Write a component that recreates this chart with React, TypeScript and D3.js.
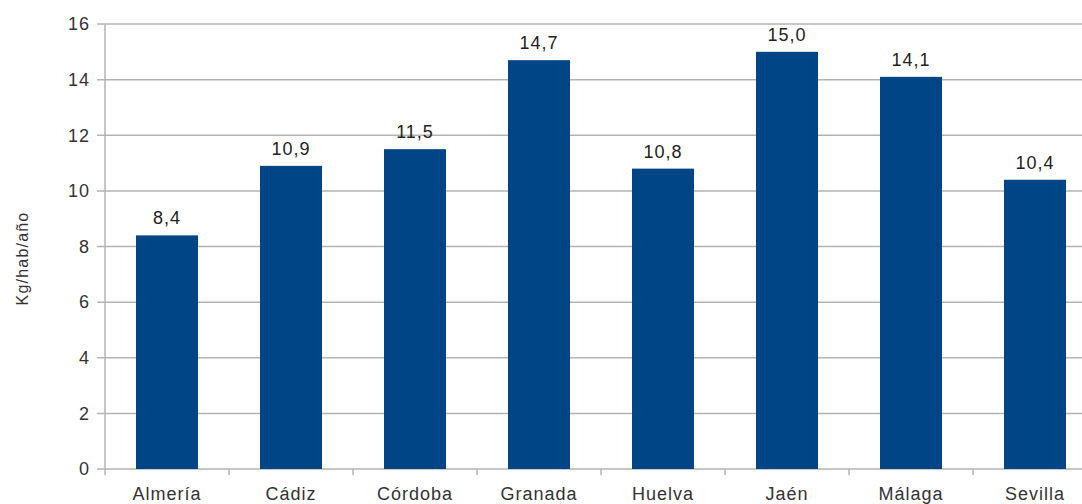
import * as d3 from 'd3';
import React, { useRef, useEffect } from 'react';

const provinces = ['Almería', 'Cádiz', 'Córdoba', 'Granada', 'Huelva', 'Jaén', 'Málaga', 'Sevilla'];
const kgPerPerson = [8.4, 10.9, 11.5, 14.7, 10.8, 15.0, 14.1, 10.4];
const yTicks = [0, 2, 4, 6, 8, 10, 12, 14, 16];
const yTitle = 'Kg/hab/año';

const BarChart: React.FC<{ width?: number; height?: number }> = ({ width = 1082, height = 504 }) => {
    const ref = useRef<SVGSVGElement | null>(null);

    useEffect(() => {
        const margin = { top: 24, left: 105, bottom: 35 };
        const plotRight = 1097; // plot runs past the right edge of the picture
        const svg = d3.select(ref.current).attr('width', width).attr('height', height);
        svg.selectAll('*').remove();

        const fontFamily = '"Liberation Sans", Arial, sans-serif';
        const grid = '#b3b3b3';

        const x = d3
            .scaleBand<string>()
            .domain(provinces)
            .range([margin.left, plotRight])
            .paddingInner(0.5)
            .paddingOuter(0.25);

        const y = d3
            .scaleLinear()
            .domain([0, 16])
            .range([height - margin.bottom, margin.top]);

        // horizontal gridlines
        svg.append('g')
            .selectAll('line')
            .data(yTicks)
            .join('line')
            .attr('x1', margin.left - 8)
            .attr('x2', width)
            .attr('y1', (d) => y(d))
            .attr('y2', (d) => y(d))
            .attr('stroke', grid)
            .attr('stroke-width', 1.5);

        // y axis line
        svg.append('line')
            .attr('x1', margin.left)
            .attr('x2', margin.left)
            .attr('y1', y(16))
            .attr('y2', y(0) + 6)
            .attr('stroke', grid)
            .attr('stroke-width', 1.5);

        // y tick labels
        svg.append('g')
            .selectAll('text')
            .data(yTicks)
            .join('text')
            .attr('x', margin.left - 15)
            .attr('y', (d) => y(d))
            .attr('dy', '0.35em')
            .attr('text-anchor', 'end')
            .attr('font-family', fontFamily)
            .attr('font-size', 18)
            .attr('letter-spacing', 1)
            .attr('fill', '#333')
            .text((d) => d);

        // category boundary ticks
        const step = x.step();
        const boundaries = provinces.map((p) => x(p)! - (step - x.bandwidth()) / 2).slice(1);
        svg.append('g')
            .selectAll('line')
            .data(boundaries)
            .join('line')
            .attr('x1', (d) => d)
            .attr('x2', (d) => d)
            .attr('y1', y(0))
            .attr('y2', y(0) + 6)
            .attr('stroke', grid)
            .attr('stroke-width', 1.5);

        // bars
        svg.append('g')
            .selectAll('rect')
            .data(provinces)
            .join('rect')
            .attr('x', (d) => x(d)!)
            .attr('y', (d, i) => y(kgPerPerson[i]))
            .attr('width', x.bandwidth())
            .attr('height', (d, i) => y(0) - y(kgPerPerson[i]))
            .attr('fill', '#004586');

        // value labels
        svg.append('g')
            .selectAll('text')
            .data(provinces)
            .join('text')
            .attr('x', (d) => x(d)! + x.bandwidth() / 2)
            .attr('y', (d, i) => y(kgPerPerson[i]) - 11)
            .attr('text-anchor', 'middle')
            .attr('font-family', fontFamily)
            .attr('font-size', 18)
            .attr('letter-spacing', 1)
            .attr('fill', '#222')
            .text((d, i) => kgPerPerson[i].toFixed(1).replace('.', ','));

        // category labels
        svg.append('g')
            .selectAll('text')
            .data(provinces)
            .join('text')
            .attr('x', (d) => x(d)! + x.bandwidth() / 2)
            .attr('y', y(0) + 31)
            .attr('text-anchor', 'middle')
            .attr('font-family', fontFamily)
            .attr('font-size', 18)
            .attr('letter-spacing', 1)
            .attr('fill', '#333')
            .text((d) => d);

        // y axis title
        svg.append('text')
            .attr('transform', `translate(28, ${(y(0) + y(16)) / 2 + 12}) rotate(-90)`)
            .attr('text-anchor', 'middle')
            .attr('font-family', fontFamily)
            .attr('font-size', 16)
            .attr('letter-spacing', 1.2)
            .attr('fill', '#333')
            .text(yTitle);
    }, [width, height]);

    return <svg ref={ref} style={{ position: 'absolute', left: 0, top: 0, background: '#fff' }}></svg>;
};

export default function App() {
    return <BarChart />;
}
